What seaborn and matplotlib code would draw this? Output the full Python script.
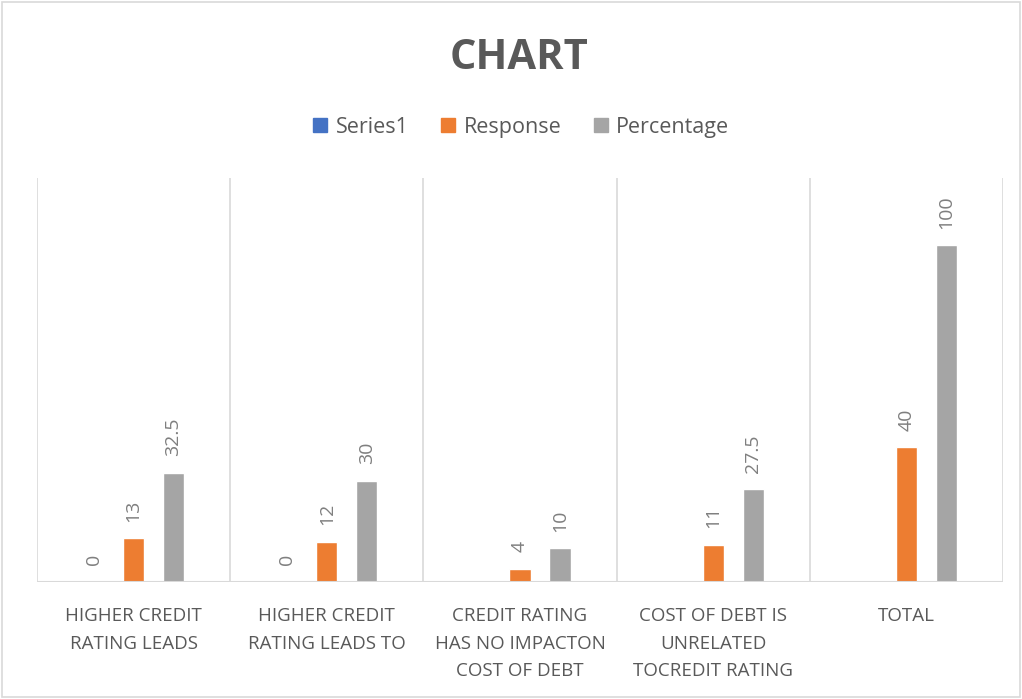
import numpy as np
import pandas as pd
import seaborn as sns
import matplotlib.pyplot as plt
from matplotlib.patches import Rectangle

categories = [
    "HIGHER CREDIT\nRATING LEADS",
    "HIGHER CREDIT\nRATING LEADS TO",
    "CREDIT RATING\nHAS NO IMPACTON\nCOST OF DEBT",
    "COST OF DEBT IS\nUNRELATED\nTOCREDIT RATING",
    "TOTAL",
]
series1 = [0, 0, np.nan, np.nan, np.nan]
response = [13, 12, 4, 11, 40]
percentage = [32.5, 30, 10, 27.5, 100]
series_names = ["Series1", "Response", "Percentage"]
colors = ["#4472C4", "#ED7D31", "#A5A5A5"]

df = pd.DataFrame({
    "category": categories * 3,
    "series": [s for s in series_names for _ in categories],
    "value": series1 + response + percentage,
})

sns.set_theme(style="white")
plt.rcParams["font.family"] = ["Open Sans", "DejaVu Sans"]

fig = plt.figure(figsize=(10.22, 6.99), dpi=100)
ax = fig.add_axes([0.0362, 0.1674, 0.9452, 0.578])

sns.barplot(data=df, x="category", y="value", hue="series", hue_order=series_names,
            palette=colors, order=categories, width=0.62, gap=0.47,
            ax=ax, legend=False, saturation=1)

for cont in ax.containers:
    ax.bar_label(cont, fmt="{:g}", rotation=90, padding=12, color="#7f7f7f", fontsize=14)

ax.set_ylim(0, 120)
ax.set_xlim(-0.5, len(categories) - 0.5)
ax.set_yticks([])
ax.set_xlabel("")
ax.set_ylabel("")
for x in np.arange(-0.5, len(categories), 1.0):
    ax.axvline(x, color="#d9d9d9", lw=1.2, zorder=0)
for s in ax.spines.values():
    s.set_visible(False)
ax.axhline(0, color="#d9d9d9", lw=1.5, zorder=3)
ax.tick_params(axis="x", length=0, pad=18, labelsize=13.5, labelcolor="#595959")
for lbl in ax.get_xticklabels():
    lbl.set_linespacing(1.68)
    lbl.set_verticalalignment("top")

handles = [plt.Rectangle((0, 0), 1, 1, color=c) for c in colors]
fig.legend(handles, series_names, loc="center", bbox_to_anchor=(0.51, 0.818), ncol=3,
           frameon=False, fontsize=15.5, handlelength=0.65, handleheight=0.65,
           handletextpad=0.4, columnspacing=1.5, labelcolor="#595959")

fig.text(0.508, 0.916, "CHART", ha="center", va="center", fontsize=30,
         fontweight="bold", color="#595959")

fig.patches.append(Rectangle((0.002, 0.003), 0.996, 0.994, transform=fig.transFigure,
                             fill=False, edgecolor="#d9d9d9", lw=1.2))

fig.savefig("out.png", dpi=100)
